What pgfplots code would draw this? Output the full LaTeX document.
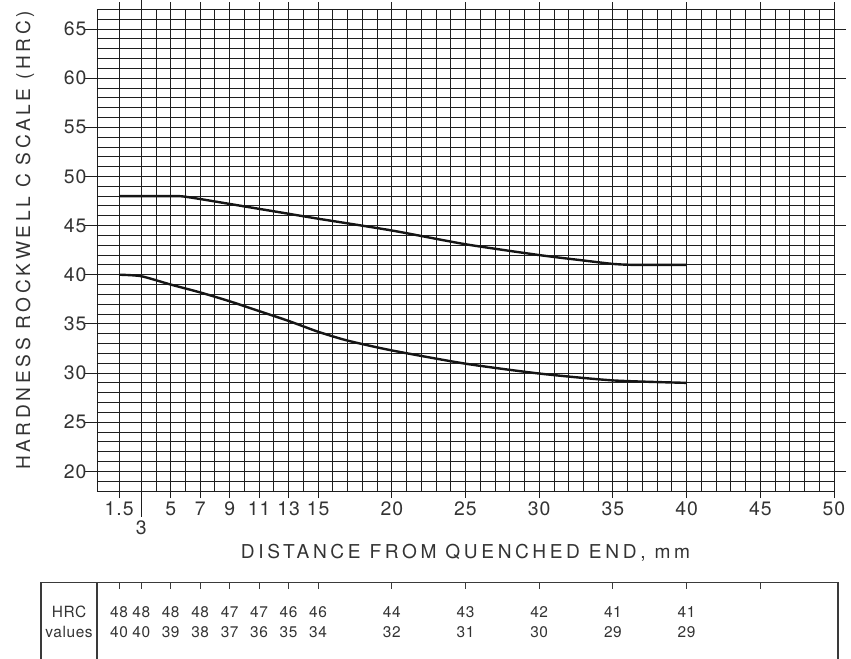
\documentclass[border=0pt]{standalone}
\usepackage{pgfplots}
\usepackage{pgfplotstable}
\pgfplotsset{compat=1.18}
\usepackage{fontspec}
\setmainfont{TeX Gyre Heros}[LetterSpace=5]
\newfontfamily\labfont{TeX Gyre Heros}[LetterSpace=19]
\newfontfamily\tabfont{TeX Gyre Heros}[LetterSpace=4]
\definecolor{txt}{HTML}{333333}
\definecolor{gridc}{HTML}{1e1e1e}
\definecolor{curve}{HTML}{151515}
\definecolor{tabline}{HTML}{3a3a3a}

\pgfplotstableread{
x y
1.5 48.0
3 48.0
5 48.0
5.8 47.97
7 47.7
9 47.2
11 46.7
13 46.2
15 45.7
20 44.5
25 43.1
30 42.0
33 41.45
35 41.1
36.5 41.0
40 41.0
}\uppercurve

\pgfplotstableread{
x y
1.5 40.0
3 39.85
5 39.0
7 38.2
9 37.3
11 36.3
13 35.3
15 34.2
17 33.3
20 32.3
25 30.95
30 29.95
35 29.25
40 29.0
}\lowercurve

\pgfplotstableread{
x y t
1.5 5.72 48
3 5.72 48
5 5.72 48
7 5.72 48
9 5.72 47
11 5.72 47
13 5.72 46
15 5.72 46
20 5.72 44
25 5.72 43
30 5.72 42
35 5.72 41
40 5.72 41
1.5 3.69 40
3 3.69 40
5 3.69 39
7 3.69 38
9 3.69 37
11 3.69 36
13 3.69 35
15 3.69 34
20 3.69 32
25 3.69 31
30 3.69 30
35 3.69 29
40 3.69 29
}\tabvals

\begin{document}
\begin{tikzpicture}
\begin{axis}[
  name=main,
  anchor=south west, at={(0,0)},
  scale only axis, width=737bp, height=481.7bp,
  xmin=0, xmax=50, ymin=18, ymax=67,
  clip=false,
  axis line style={gridc, line width=0.9bp},
  tick align=outside,
  major tick length=7bp,
  xtick={1.5,5,7,9,11,13,15,20,25,30,35,40,45,50},
  xticklabels={1.5,5,7,9,11,13,15,20,25,30,35,40,45,50},
  extra x ticks={3}, extra x tick labels={3},
  extra x tick style={major tick length=26bp},
  ytick={20,25,...,65},
  xtick style={gridc, line width=0.9bp},
  ytick style={gridc, line width=0.9bp, /pgfplots/major tick length=12bp},
  minor xtick={0,1.5,3,4,5,...,50},
  minor ytick={18,19,...,67},
  xminorgrids, yminorgrids, minor tick length=0pt,
  minor grid style={gridc, line width=0.85bp},
  tick label style={font=\fontsize{19.5}{21}\selectfont, text=txt},
  /pgf/number format/assume math mode=true,
  xlabel={DISTANCE FROM QUENCHED END, mm},
  ylabel={HARDNESS ROCKWELL C SCALE (HRC)},
  label style={font=\labfont\fontsize{19.2}{21}\selectfont, text=txt},
  xlabel style={at={(axis description cs:0.5,-0.129)}, anchor=center},
  ylabel style={at={(axis description cs:-0.0977,0.52)}, anchor=center},
]
\addplot[curve, line width=2.4bp, smooth, tension=0.4] table[x=x,y=y] \uppercurve;
\addplot[curve, line width=2.4bp, smooth, tension=0.4] table[x=x,y=y] \lowercurve;

% table below the chart
\draw[tabline, line width=1.2bp] (axis cs:-3.8,0.91) -- (axis cs:-3.8,8.71) -- (axis cs:50.27,8.71) -- (axis cs:50.27,0.91);
\draw[tabline, line width=1.2bp] (axis cs:0,8.71) -- (axis cs:0,0.91);
\pgfplotsinvokeforeach{1.5,3,5,7,9,11,13,15,20,25,30,35,40,45}{
  \draw[tabline, line width=1bp] (axis cs:#1,8.71) -- (axis cs:#1,8.0);
}
\addplot[draw=none, nodes near coords, point meta=explicit symbolic,
  every node near coord/.append style={anchor=center, font=\tabfont\fontsize{15.5}{16}\selectfont, text=txt}]
  table[x=x,y=y,meta=t] \tabvals;
\node[font=\tabfont\fontsize{15.5}{16}\selectfont, text=txt] at (axis cs:-1.9,5.72) {HRC};
\node[font=\tabfont\fontsize{15.5}{16}\selectfont, text=txt] at (axis cs:-1.9,3.69) {values};
\end{axis}
\pgfresetboundingbox
\path[use as bounding box] (-97bp,-168bp) rectangle (754bp,491bp);
\end{tikzpicture}
\end{document}
